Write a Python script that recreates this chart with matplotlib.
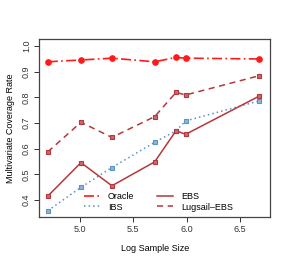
import matplotlib
matplotlib.use("Agg")
import matplotlib.pyplot as plt

plt.rcParams['font.family'] = ['Liberation Sans', 'DejaVu Sans']

log_n = [4.70, 5.01, 5.30, 5.70, 5.90, 5.99, 6.68]
oracle = [0.938, 0.945, 0.952, 0.938, 0.955, 0.952, 0.949]
lugsail = [0.588, 0.703, 0.644, 0.725, 0.819, 0.809, 0.884]
ebs = [0.416, 0.546, 0.456, 0.549, 0.670, 0.656, 0.805]
ibs = [0.359, 0.450, 0.527, 0.625, 0.670, 0.708, 0.786]
xticks = [5.0, 5.5, 6.0, 6.5]
yticks = [0.4, 0.5, 0.6, 0.7, 0.8, 0.9, 1.0]

red = '#FF1A1A'
dark = '#B5373B'
blue = '#5A93C8'

fig = plt.figure(figsize=(2.91, 2.67), dpi=100)
ax = fig.add_axes([0.135, 0.187, 0.793, 0.666])

ax.plot(log_n, oracle, color=red, ls=(0, (6, 2, 1, 2)), lw=1.2, marker='o', ms=3.8, label='Oracle')
ax.plot(log_n, ibs, color=blue, ls=(0, (1, 2)), lw=1.1, marker='s', ms=3.2, mfc='#8DB5DD', mec=blue, mew=0.8, label='IBS')
ax.plot(log_n, ebs, color=dark, ls='-', lw=1.1, marker='s', ms=3.2, mfc='#C86A6D', mec=dark, mew=0.8, label='EBS')
ax.plot(log_n, lugsail, color=dark, ls=(0, (4, 3)), lw=1.1, marker='s', ms=3.2, mfc='#C86A6D', mec=dark, mew=0.8, label='Lugsail\u2013EBS')

ax.set_xlim(4.62, 6.78)
ax.set_ylim(0.3344, 1.0256)
ax.set_xticks(xticks)
ax.set_xticklabels([f'{t:.1f}' for t in xticks])
ax.set_yticks(yticks)
ax.set_yticklabels([f'{t:.1f}' for t in yticks], rotation=90, va='center')
ax.tick_params(labelsize=6.5, length=3.5, width=0.7, colors='#333333', pad=2.5)
for s in ax.spines.values():
    s.set_color('#444444')
    s.set_linewidth(0.9)

ax.set_xlabel('Log Sample Size', fontsize=6.5, labelpad=7)
ax.set_ylabel('Multivariate Coverage Rate', fontsize=6.5, labelpad=5)

handles, labels = ax.get_legend_handles_labels()
leg = ax.legend(handles, labels, ncol=2, frameon=False, fontsize=6.5, loc='lower left',
                bbox_to_anchor=(0.165, -0.005), borderpad=0.2, handlelength=1.8,
                columnspacing=2.5, labelspacing=0.2, handletextpad=0.9)
for h in leg.legend_handles:
    h.set_marker('')

fig.savefig('out.png', dpi=100)
